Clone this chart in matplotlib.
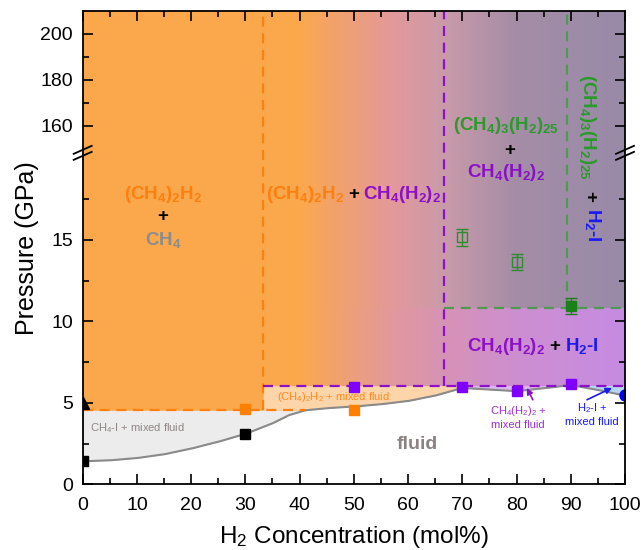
import numpy as np
import matplotlib
matplotlib.use('Agg')
import matplotlib.pyplot as plt
import matplotlib.ticker as mticker
from matplotlib.offsetbox import TextArea, HPacker, AnnotationBbox
from matplotlib.colors import to_rgb

plt.rcParams['font.family'] = ['Liberation Sans', 'DejaVu Sans']
plt.rcParams['mathtext.fontset'] = 'custom'
plt.rcParams['mathtext.rm'] = 'Liberation Sans'
plt.rcParams['mathtext.it'] = 'Liberation Sans:italic'
plt.rcParams['mathtext.bf'] = 'Liberation Sans:bold'

# ---------------- data ----------------
# fluid / solid boundary (melting curve)
curve_x = [0, 5, 10, 15, 20, 25, 30, 35, 38, 41, 45, 50, 55, 60, 65, 70, 75, 80, 85, 90, 95, 100]
curve_p = [1.42, 1.48, 1.62, 1.85, 2.2, 2.62, 3.1, 3.75, 4.25, 4.55, 4.68, 4.78, 4.92, 5.12,
           5.45, 5.92, 5.82, 5.72, 5.9, 6.1, 5.8, 5.45]

# phase-boundary compositions (mol% H2) and pressures (GPa)
x_ch42h2 = 33.3
x_ch4h22 = 66.7
x_ch43h225 = 89.3
x_ch4i_end = 41.0
p_low = 4.55
p_mid = 6.07
p_high = 10.85

# measured points
black_sq_x = [0, 30]
black_sq_p = [1.45, 3.1]
black_tri_x = [0]
black_tri_p = [5.0]
orange_sq_x = [30, 50]
orange_sq_p = [4.6, 4.57]
purple_sq_x = [50, 70, 80, 90]
purple_sq_p = [6.0, 5.96, 5.75, 6.15]
blue_circ_x = [100]
blue_circ_p = [5.49]
green_open_x = [70, 80]
green_open_p = [15.15, 13.65]
green_open_err = [0.5, 0.5]
green_fill_x = [90]
green_fill_p = [10.95]
green_fill_err = [0.5]

# background colour ramps (composition -> colour)
ramp_x = [0, 40, 57, 66.7, 80, 100]
ramp_low = ['#FBA84C', '#FBA84C', '#E2989C', '#D692B5', '#CD8ED0', '#C58BE2']
ramp_up = ['#FBA84C', '#FBA84C', '#E3989A', '#C99AA9', '#A48CA6', '#988AA8']

xticks = [0, 10, 20, 30, 40, 50, 60, 70, 80, 90, 100]
yticks = [0, 5, 10, 15, 160, 180, 200]
yminor = [2.5, 7.5, 12.5, 17.5, 170, 190]

# colours
c_orange = '#FF7F0E'
c_purple = '#8B10C8'
c_green = '#2A9A2A'
c_blue = '#1A1AF0'
c_gray = '#8C8C8C'

# ---------------- broken y scale ----------------
B1, B2, K, EPS = 20.34, 148.3, 0.1408, 1e-4
YB = B1 + (B2 - B1) * EPS


def fwd(p):
    p = np.asarray(p, float)
    return np.where(p <= B1, p, np.where(p >= B2, YB + (p - B2) * K, B1 + (p - B1) * EPS))


def inv(y):
    y = np.asarray(y, float)
    return np.where(y <= B1, y, np.where(y >= YB, B2 + (y - YB) / K, B1 + (y - B1) / EPS))


fig = plt.figure(figsize=(6.44, 5.5), dpi=100)
ax = fig.add_axes([0.1284, 0.1191, 0.8421, 0.8609])
ax.set_yscale('function', functions=(fwd, inv))
ax.set_xlim(0, 100)
ax.set_ylim(0, 210)

# background gradient
xe = np.linspace(0, 100, 401)
xcm = 0.5 * (xe[1:] + xe[:-1])


def ramp(cols):
    rgb = np.array([to_rgb(c) for c in cols])
    return np.stack([np.interp(xcm, ramp_x, rgb[:, i]) for i in range(3)], axis=-1)


C = np.stack([ramp(ramp_low), ramp(ramp_up)], axis=0)
ax.pcolormesh(xe, [0, p_high, 210], C, shading='flat', linewidth=0,
              antialiased=False, rasterized=True, zorder=0)

# lower regions
xf = np.linspace(0, 100, 1001)
cf = np.interp(xf, curve_x, curve_p)
ax.fill_between(xf, 0, cf, color='white', lw=0, zorder=1)
m = xf <= x_ch4i_end
ax.fill_between(xf[m], cf[m], np.maximum(cf[m], p_low), color='#ECECEC', lw=0, zorder=1)
m = (xf >= x_ch42h2) & (xf <= 70)
ax.fill_between(xf[m], np.maximum(cf[m], p_low), p_mid, color='#FDD5A8', lw=0, zorder=1)
m = (xf >= 70) & (xf <= 90)
ax.fill_between(xf[m], cf[m], p_mid, color='#DDB8EE', lw=0, zorder=1)
m = xf >= 90
ax.fill_between(xf[m], cf[m], p_mid, color='#B2D8F4', lw=0, zorder=1)

ax.plot(xf, cf, color='#8A8A8A', lw=1.5, zorder=2)

ds = (0, (4.5, 3))
ax.plot([0, x_ch4i_end], [p_low, p_low], color=c_orange, lw=1.6, ls=ds, zorder=3)
ax.plot([x_ch42h2, x_ch42h2], [p_low, 210], color=c_orange, lw=1.6, ls=ds, zorder=3)
ax.plot([x_ch42h2, 100], [p_mid, p_mid], color=c_purple, lw=1.6, ls=ds, zorder=3)
ax.plot([x_ch4h22, x_ch4h22], [p_mid, 210], color=c_purple, lw=1.6, ls=ds, zorder=3)
ax.plot([x_ch4h22, 100], [p_high, p_high], color='#4E9A4E', lw=1.6, ls=ds, zorder=3)
ax.plot([x_ch43h225, x_ch43h225], [p_high, 210], color='#4E9A4E', lw=1.6, ls=ds, zorder=3)

# markers
ax.plot(black_sq_x, black_sq_p, 's', color='black', ms=7, zorder=5)
ax.plot(black_tri_x, black_tri_p, '^', color='black', ms=8, zorder=5)
ax.plot(orange_sq_x, orange_sq_p, 's', color='#FF8000', ms=7, zorder=5)
ax.plot(purple_sq_x, purple_sq_p, 's', color='#8000FF', ms=7, zorder=5)
ax.plot(blue_circ_x, blue_circ_p, 'o', color='#0000FF', ms=8, zorder=5)
ax.errorbar(green_open_x, green_open_p, yerr=green_open_err, fmt='s', mfc='none',
            mec='#2E8B2E', ecolor='#2E8B2E', ms=7, capsize=4, lw=1, zorder=5)
ax.errorbar(green_fill_x, green_fill_p, yerr=green_fill_err, fmt='s', color='#1A801A',
            ms=7, capsize=4, lw=1, zorder=5)

# ticks
ax.xaxis.set_major_locator(mticker.FixedLocator(xticks))
ax.xaxis.set_minor_locator(mticker.MultipleLocator(5))
ax.yaxis.set_major_locator(mticker.FixedLocator(yticks))
ax.yaxis.set_minor_locator(mticker.FixedLocator(yminor))
ax.yaxis.set_major_formatter(mticker.FuncFormatter(lambda v, p: f'{v:g}'))
ax.yaxis.set_minor_formatter(mticker.NullFormatter())
ax.tick_params(which='both', direction='in', top=True, right=True, width=1.2, labelsize=14)
ax.tick_params(which='major', length=7)
ax.tick_params(which='minor', length=4)
ax.tick_params(axis='y', which='major', pad=7)
ax.tick_params(axis='x', which='major', pad=9)
for s in ax.spines.values():
    s.set_linewidth(1.3)
    s.set_zorder(10)

ax.set_xlabel(r'H$_2$ Concentration (mol%)', fontsize=17.5, labelpad=7)
ax.set_ylabel('Pressure (GPa)', fontsize=18, labelpad=1)

# break marks
W, H = 542.3, 472.5
yb = fwd(B1) / fwd(210)
for xs in (0, 1):
    for dy in (-3, 3):
        ax.plot([xs - 9 / W, xs + 9 / W], [yb + (dy - 4) / H, yb + (dy + 4) / H],
                transform=ax.transAxes, color='black', lw=1.3, clip_on=False, zorder=11)


# labels
def multi(parts, fx, fy, size):
    areas = [TextArea(s, textprops=dict(color=c, fontsize=size, fontweight='bold'))
             for s, c in parts]
    box = HPacker(children=areas, align='baseline', pad=0, sep=3)
    ab = AnnotationBbox(box, (fx, fy), xycoords='axes fraction', frameon=False,
                        box_alignment=(0.5, 0.5), pad=0, zorder=6)
    ax.add_artist(ab)


def t(fx, fy, s, c, size, **kw):
    ax.text(fx, fy, s, color=c, fontsize=size, ha='center', va='center',
            transform=ax.transAxes, zorder=6, **kw)


BIG = 13.5
t(0.148, 0.613, r'$\mathbf{(CH_4)_2H_2}$', c_orange, BIG)
t(0.148, 0.566, '+', 'black', BIG, fontweight='bold')
t(0.148, 0.517, r'$\mathbf{CH_4}$', c_gray, BIG)

multi([(r'$\mathbf{(CH_4)_2H_2}$', c_orange), ('+', 'black'),
       (r'$\mathbf{CH_4(H_2)_2}$', c_purple)], 0.500, 0.613, BIG)

t(0.781, 0.759, r'$\mathbf{(CH_4)_3(H_2)_{25}}$', c_green, BIG)
t(0.788, 0.706, '+', 'black', BIG, fontweight='bold')
t(0.781, 0.659, r'$\mathbf{CH_4(H_2)_2}$', c_purple, BIG)

t(0.930, 0.755, r'$\mathbf{(CH_4)_3(H_2)_{25}}$', c_green, BIG, rotation=-90)
t(0.935, 0.608, '+', 'black', BIG, fontweight='bold', rotation=-90)
t(0.941, 0.549, r'$\mathbf{H_2}$-I', c_blue, BIG, fontweight='bold', rotation=-90)

multi([(r'$\mathbf{CH_4(H_2)_2}$', c_purple), ('+', 'black'),
       (r'$\mathbf{H_2}$-I', c_blue)], 0.830, 0.291, BIG)

t(0.462, 0.185, r'(CH$_4$)$_2$H$_2$ + mixed fluid', '#FF8A20', 8)
t(0.100, 0.120, r'CH$_4$-I + mixed fluid', '#8F8585', 8)
t(0.617, 0.0836, 'fluid', '#8C8282', 14, fontweight='bold')
t(0.803, 0.143, 'CH$_4$(H$_2$)$_2$ +\nmixed fluid', '#9B30D0', 8)
t(0.939, 0.149, 'H$_2$-I +\nmixed fluid', c_blue, 8)

ax.annotate('', xy=(0.819, 0.204), xytext=(0.830, 0.179), xycoords='axes fraction',
            arrowprops=dict(arrowstyle='-|>', color='#8B10C8', lw=1.2, mutation_scale=9,
                            shrinkA=0, shrinkB=0), zorder=7)
ax.annotate('', xy=(0.976, 0.204), xytext=(0.930, 0.179), xycoords='axes fraction',
            arrowprops=dict(arrowstyle='-|>', color=c_blue, lw=1.2, mutation_scale=9,
                            shrinkA=0, shrinkB=0), zorder=7)

fig.savefig('out.png', dpi=100)
